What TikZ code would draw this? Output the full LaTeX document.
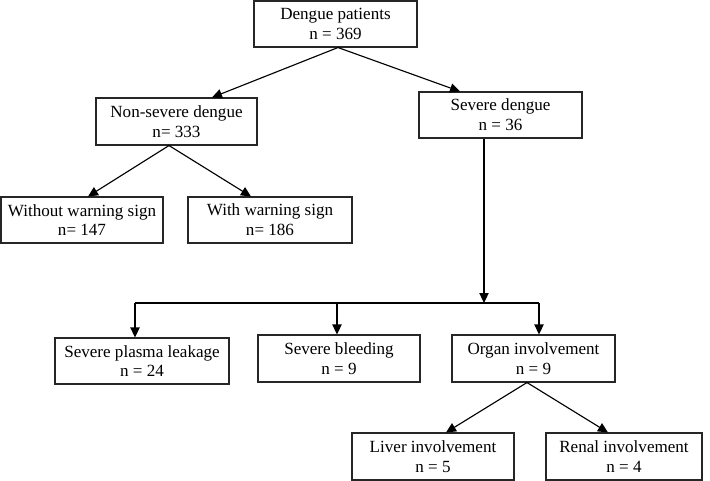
\documentclass[tikz,border=0pt]{standalone}
\usepackage{fontspec}
\setmainfont{Liberation Serif}
\usetikzlibrary{arrows.meta}
\def\px{0.75pt}
\tikzset{
  box/.style={draw=black!85, line width=0.8pt, align=center, inner sep=0pt,
    font=\fontsize{12.8}{14.8}\selectfont, text=black},
  conn/.style={draw=black, line width=0.85pt},
  arr/.style={conn, -{Triangle[length=7.5pt,width=7pt]}}
}
\begin{document}
\begin{tikzpicture}[x=0.75pt,y=-0.75pt]
\useasboundingbox (0,0) rectangle (710,481);
\node[box, minimum width=163*\px, minimum height=46*\px] (A) at (335.5,24) {Dengue patients\\n = 369};
\node[box, minimum width=161*\px, minimum height=47*\px] (B) at (176.5,121.5) {Non-severe dengue\\n= 333};
\node[box, minimum width=163*\px, minimum height=46*\px] (C) at (500.5,115) {Severe dengue\\n = 36};
\node[box, minimum width=162*\px, minimum height=46*\px] (D) at (82,220) {Without warning sign\\n= 147};
\node[box, minimum width=164*\px, minimum height=46*\px] (E) at (270,220) {With warning sign\\n= 186};
\node[box, minimum width=174*\px, minimum height=46*\px] (F) at (142,361) {Severe plasma leakage\\n = 24};
\node[box, minimum width=162*\px, minimum height=47*\px] (G) at (339,358.5) {Severe bleeding\\n = 9};
\node[box, minimum width=163*\px, minimum height=47*\px] (H) at (533.5,358.5) {Organ involvement\\n = 9};
\node[box, minimum width=162*\px, minimum height=47*\px] (I) at (433,456.5) {Liver involvement\\n = 5};
\node[box, minimum width=156*\px, minimum height=47*\px] (J) at (624,456.5) {Renal involvement\\n = 4};
% coordinates for the bar
\coordinate (bar) at (484,303);
\coordinate (barL) at (135,303);
\coordinate (barR) at (539,303);
% arrows
\draw[arr] ([xshift=2.5*\px]A.south) -- ([xshift=35.5*\px]B.north);
\draw[arr] ([xshift=2.5*\px]A.south) -- ([xshift=-40.5*\px]C.north);
\draw[arr] ([xshift=-7.5*\px]B.south) -- ([xshift=6*\px]D.north);
\draw[arr] ([xshift=-7.5*\px]B.south) -- ([xshift=-19*\px]E.north);
\draw[arr] ([xshift=-16.5*\px]C.south) -- (bar);
\draw[conn] (barL) -- (barR);
\draw[arr] (barL) -- (barL |- F.north);
\draw[arr] (barL -| G.north) ++(-2*\px,0) coordinate (gtop) -- (gtop |- G.north);
\draw[arr] (barR) -- (barR |- H.north);
\draw[arr] ([xshift=-6.5*\px]H.south) -- ([xshift=13*\px]I.north);
\draw[arr] ([xshift=-6.5*\px]H.south) -- ([xshift=-16*\px]J.north);
\end{tikzpicture}
\end{document}
